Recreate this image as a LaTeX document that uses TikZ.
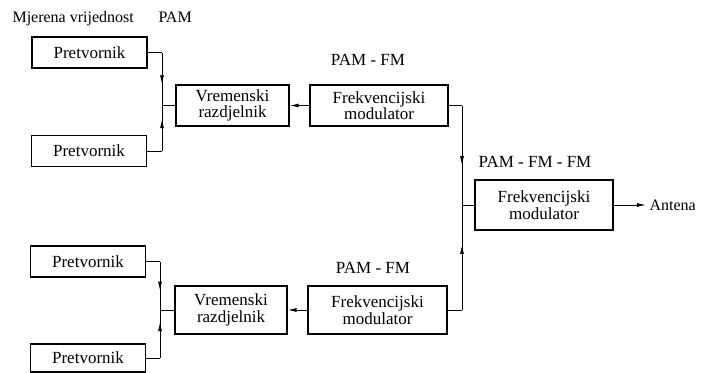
\documentclass[tikz,border=0pt]{standalone}
\usepackage{fontspec}
\setmainfont{Liberation Serif}
\usetikzlibrary{arrows.meta,decorations.markings}

\begin{document}
\begin{tikzpicture}[x=1pt,y=-1pt,
  blok/.style={draw,line width=1.3pt,minimum width=115pt,minimum height=31pt,align=center,inner sep=0pt,font=\fontsize{17}{16.5}\selectfont},
  oznaka/.style={font=\fontsize{17}{18}\selectfont},
  veza/.style={line width=0.9pt},
  sred/.style={veza,postaction=decorate,decoration={markings,mark=at position #1 with {\arrow{Latex[length=9pt,width=4pt]}}}}]
\useasboundingbox (0,0) rectangle (714,372);
\node[anchor=base west,font=\fontsize{16}{18}\selectfont] (mjer) at (9,22) {Mjerena vrijednost};
\node[anchor=base west,font=\fontsize{16}{18}\selectfont] (pam) at (155,22) {PAM};
\node[blok] (p1) at (89.5,52.5) {Pretvornik};
\node[blok] (p2) at (89,151) {Pretvornik};
\node[blok] (p3) at (88,261.5) {Pretvornik};
\node[blok,minimum height=28pt] (p4) at (88,358) {Pretvornik};
\node[blok,minimum width=113pt,minimum height=41pt] (r1) at (232.5,105.5) {Vremenski\\razdjelnik};
\node[blok,minimum width=138pt,minimum height=41pt] (m1) at (379,105.5) {Frekvencijski\\modulator};
\node[blok,minimum width=112pt,minimum height=48pt] (r2) at (231,310) {Vremenski\\razdjelnik};
\node[blok,minimum width=139pt,minimum height=48pt] (m2) at (377.5,310) {Frekvencijski\\modulator};
\node[blok,minimum width=138pt,minimum height=50pt] (fm) at (544,205) {Frekvencijski\\modulator};
\node[oznaka] (l1) at (368,60) {PAM - FM};
\node[oznaka] (l2) at (373,268) {PAM - FM};
\node[oznaka] (l3) at (535,162) {PAM - FM - FM};
\node[oznaka,anchor=west,font=\fontsize{16}{18}\selectfont] (ant) at (646,205) {Antena};
\coordinate (j1) at (162,105.5);
\coordinate (j2) at (160,310);
\coordinate (j3) at (462,205);
\draw[veza] (p1.east) -- (p1.east -| j1);
\draw[sred=0.6] (p1.east -| j1) -- (j1);
\draw[veza] (p2.east) -- (p2.east -| j1);
\draw[sred=0.7] (p2.east -| j1) -- (j1);
\draw[veza] (j1) -- (r1.west);
\draw[veza] (p3.east) -- (p3.east -| j2);
\draw[sred=0.6] (p3.east -| j2) -- (j2);
\draw[veza] (p4.east) -- (p4.east -| j2);
\draw[sred=0.75] (p4.east -| j2) -- (j2);
\draw[veza] (j2) -- (r2.west);
\draw[veza,{Latex[length=9pt,width=4pt]}-] (r1.east) -- (m1.west);
\draw[veza,{Latex[length=9pt,width=4pt]}-] (r2.east) -- (m2.west);
\draw[veza] (m1.east) -- (m1.east -| j3);
\draw[sred=0.6] (m1.east -| j3) -- (j3);
\draw[veza] (m2.east) -- (m2.east -| j3);
\draw[sred=0.62] (m2.east -| j3) -- (j3);
\draw[veza] (j3) -- (fm.west);
\draw[veza,-{Latex[length=9pt,width=4pt]}] (fm.east) -- (ant.west);
\end{tikzpicture}
\end{document}
